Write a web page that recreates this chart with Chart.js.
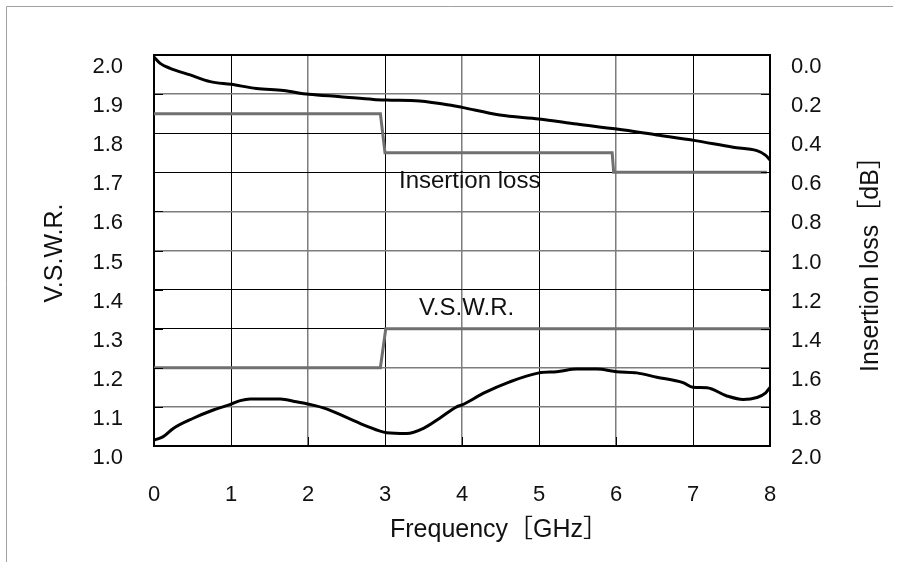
<!DOCTYPE html>
<html><head><meta charset="utf-8">
<script src="https://cdn.jsdelivr.net/npm/chart.js@4"></script>
<style>html,body{margin:0;padding:0;background:#fff}#wrap{width:899px;height:568px;position:relative}</style>
</head><body><div id="wrap"><canvas id="c" width="899" height="568"></canvas></div>
<script>
// ---- data ----
const freqTicks = [0, 1, 2, 3, 4, 5, 6, 7, 8];
const vswrTicks = [1.0, 1.1, 1.2, 1.3, 1.4, 1.5, 1.6, 1.7, 1.8, 1.9, 2.0];
const lossTicks = [0.0, 0.2, 0.4, 0.6, 0.8, 1.0, 1.2, 1.4, 1.6, 1.8, 2.0];

// measured insertion loss [dB] (right axis)
const ilFreq = [0, 0.08, 0.21, 0.47, 0.73, 1.0, 1.33, 1.68, 2.01, 2.42, 2.85, 3.02, 3.45, 3.84, 4.0, 4.49, 5.0, 5.49, 6.01, 6.53, 7.03, 7.52, 7.83, 7.94, 8.0];
const ilLoss = [0.01, 0.043, 0.068, 0.102, 0.136, 0.150, 0.171, 0.182, 0.201, 0.213, 0.227, 0.230, 0.235, 0.256, 0.268, 0.307, 0.327, 0.353, 0.379, 0.409, 0.438, 0.472, 0.489, 0.512, 0.537];

// measured V.S.W.R. (left axis)
const vswrFreq = [0, 0.12, 0.25, 0.51, 0.77, 1.0, 1.12, 1.25, 1.64, 1.85, 2.01, 2.24, 2.5, 2.76, 3.02, 3.28, 3.5, 3.71, 3.93, 4.0, 4.28, 4.62, 5.0, 5.23, 5.49, 5.75, 6.01, 6.27, 6.53, 6.87, 7.0, 7.18, 7.44, 7.65, 7.83, 7.94, 8.0];
const vswrMeas = [1.015, 1.024, 1.045, 1.071, 1.092, 1.107, 1.116, 1.120, 1.120, 1.113, 1.107, 1.095, 1.073, 1.051, 1.034, 1.032, 1.045, 1.071, 1.100, 1.105, 1.135, 1.164, 1.187, 1.190, 1.197, 1.197, 1.190, 1.187, 1.176, 1.162, 1.150, 1.149, 1.128, 1.119, 1.124, 1.135, 1.150];

// specification limits
const ilSpecFreq = [0, 2.94, 3.0, 5.95, 5.97, 7.96];
const ilSpecLoss = [0.3, 0.3, 0.5, 0.5, 0.6, 0.6];
const vswrSpecFreq = [0, 2.94, 3.01, 8.0];
const vswrSpecVals = [1.2, 1.2, 1.3, 1.3];

// grid lines rendered gray in the original
const grayFreqLines = [2, 4, 6];
const grayVswrLines = [1.1, 1.2, 1.5, 1.6, 1.9];

// texts
const xTitle = 'Frequency［GHz］';
const yTitle = 'V.S.W.R.';
const y2Title = 'Insertion loss［dB］';
const annotations = [
  { text: 'Insertion loss', x: 4.1, y: 1.66 },
  { text: 'V.S.W.R.', x: 4.06, y: 1.335 }
];

// ---- chart ----
const FONT = '"Liberation Sans", Arial, "Noto Sans CJK JP", sans-serif';
const GRAY = 'rgb(112,112,112)';
const zip = (xs, ys) => xs.map((x, i) => ({ x: x, y: ys[i] }));
const isIn = (arr, v) => arr.some(a => Math.abs(a - v) < 1e-6);

const overlay = {
  id: 'overlay',
  afterDraw(chart) {
    const c = chart.ctx, a = chart.chartArea;
    const sx = chart.scales.x, sy = chart.scales.y;
    c.save();
    // outer frame
    c.strokeStyle = '#a0a0a0'; c.lineWidth = 1;
    c.beginPath(); c.moveTo(6.5, 562); c.lineTo(6.5, 6.5); c.lineTo(893, 6.5); c.stroke();
    // inner ticks
    c.strokeStyle = '#000'; c.lineWidth = 1;
    c.beginPath();
    vswrTicks.forEach(v => {
      const y = Math.round(sy.getPixelForValue(v)) + 0.5;
      c.moveTo(a.left, y); c.lineTo(a.left + 9, y);
      c.moveTo(a.right - 9, y); c.lineTo(a.right, y);
    });
    freqTicks.forEach(v => {
      const x = Math.round(sx.getPixelForValue(v)) + 0.5;
      c.moveTo(x, a.bottom); c.lineTo(x, a.bottom - 9);
    });
    c.stroke();
    // top border
    c.lineWidth = 2;
    c.beginPath(); c.moveTo(a.left - 1, a.top); c.lineTo(a.right + 1, a.top); c.stroke();
    // annotations
    c.fillStyle = '#111';
    c.font = '24px ' + FONT;
    c.textAlign = 'center'; c.textBaseline = 'alphabetic';
    annotations.forEach(t => c.fillText(t.text, sx.getPixelForValue(t.x), sy.getPixelForValue(t.y)));
    // axis titles
    c.font = '25px ' + FONT;
    c.textAlign = 'left';
    c.fillText(xTitle, 390, 537);
    c.save(); c.translate(62, 253); c.rotate(-Math.PI / 2); c.textAlign = 'center'; c.fillText(yTitle, 0, 0); c.restore();
    c.save(); c.translate(878, 258); c.rotate(-Math.PI / 2); c.textAlign = 'center'; c.fillText(y2Title, 0, 0); c.restore();
    c.restore();
  }
};

new Chart(document.getElementById('c'), {
  type: 'line',
  data: {
    datasets: [
      { data: zip(ilSpecFreq, ilSpecLoss), yAxisID: 'y2', borderColor: GRAY, borderWidth: 3, pointRadius: 0, tension: 0 },
      { data: zip(vswrSpecFreq, vswrSpecVals), yAxisID: 'y', borderColor: GRAY, borderWidth: 3, pointRadius: 0, tension: 0 },
      { data: zip(ilFreq, ilLoss), yAxisID: 'y2', borderColor: '#000', borderWidth: 3, pointRadius: 0, cubicInterpolationMode: 'monotone', clip: 4 },
      { data: zip(vswrFreq, vswrMeas), yAxisID: 'y', borderColor: '#000', borderWidth: 3, pointRadius: 0, cubicInterpolationMode: 'monotone', clip: 4 }
    ]
  },
  options: {
    responsive: false,
    devicePixelRatio: 1,
    animation: false,
    events: [],
    layout: { padding: { top: 55, left: 0, right: 0, bottom: 0 } },
    plugins: { legend: { display: false }, tooltip: { enabled: false } },
    scales: {
      x: {
        type: 'linear', min: 0, max: 8,
        afterBuildTicks: s => { s.ticks = freqTicks.map(v => ({ value: v })); },
        afterFit: s => { s.height = 122; },
        ticks: { padding: 36, color: '#111', font: { size: 22, family: FONT }, autoSkip: false, maxRotation: 0 },
        grid: {
          drawTicks: false,
          color: ctx => (ctx.tick && isIn(grayFreqLines, ctx.tick.value)) ? 'rgb(125,125,125)' : '#000',
          lineWidth: ctx => (ctx.tick && isIn(grayFreqLines, ctx.tick.value)) ? 1.5 : 1
        },
        border: { display: true, color: '#000', width: 2 }
      },
      y: {
        type: 'linear', position: 'left', min: 1, max: 2,
        afterBuildTicks: s => { s.ticks = vswrTicks.map(v => ({ value: v })); },
        afterFit: s => { s.width = 154; },
        ticks: { padding: 31, labelOffset: 12, color: '#111', font: { size: 22, family: FONT }, autoSkip: false, callback: v => v.toFixed(1) },
        grid: {
          drawTicks: false,
          color: ctx => (ctx.tick && isIn(grayVswrLines, ctx.tick.value)) ? 'rgb(125,125,125)' : '#000',
          lineWidth: ctx => (ctx.tick && isIn(grayVswrLines, ctx.tick.value)) ? 1.5 : 1
        },
        border: { display: true, color: '#000', width: 2 }
      },
      y2: {
        type: 'linear', position: 'right', min: 0, max: 2, reverse: true,
        afterBuildTicks: s => { s.ticks = lossTicks.map(v => ({ value: v })); },
        afterFit: s => { s.width = 129; },
        ticks: { padding: 21, labelOffset: 12, color: '#111', font: { size: 22, family: FONT }, autoSkip: false, callback: v => v.toFixed(1) },
        grid: { drawOnChartArea: false, drawTicks: false },
        border: { display: true, color: '#000', width: 2 }
      }
    }
  },
  plugins: [overlay]
});
</script>
</body></html>
